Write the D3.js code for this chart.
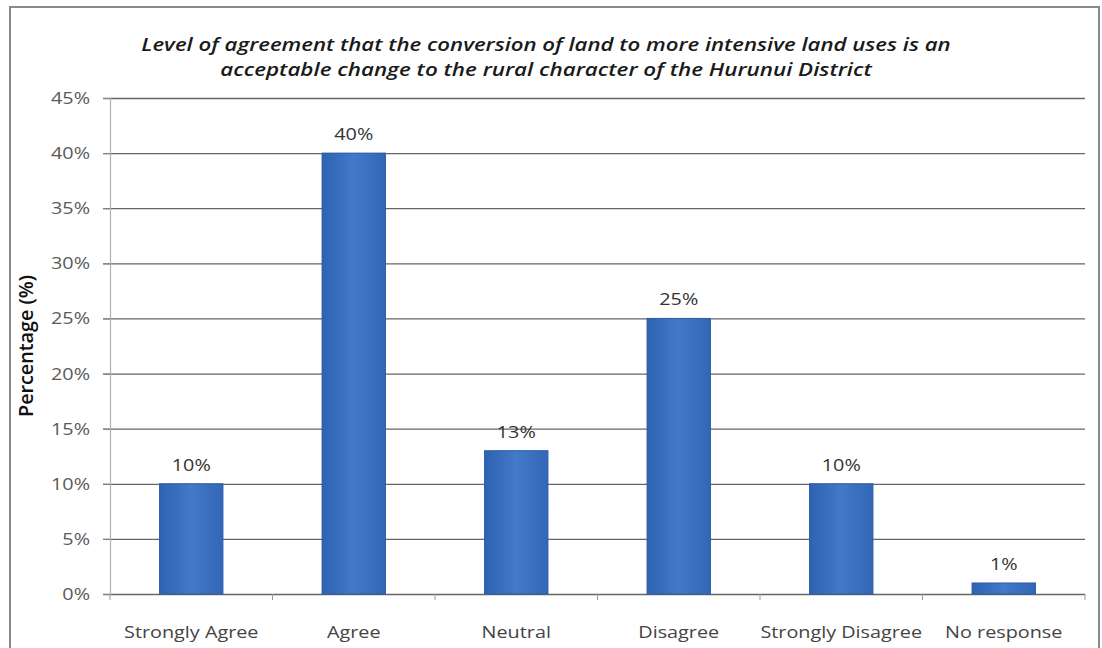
<!DOCTYPE html>
<html>
<head>
<meta charset="utf-8">
<script src="https://cdn.jsdelivr.net/npm/d3@7"></script>
<style>
  html, body { margin: 0; padding: 0; background: #fff; }
  svg { display: block; }
</style>
</head>
<body>
<svg id="chart" width="1102" height="648"></svg>
<script>
// Survey responses: share of respondents per agreement level
const categories = ["Strongly Agree", "Agree", "Neutral", "Disagree", "Strongly Disagree", "No response"];
const percentages = [10, 40, 13, 25, 10, 1];
const yTicks = [0, 5, 10, 15, 20, 25, 30, 35, 40, 45];
const titleLines = [
  "Level of agreement that the conversion of land to more intensive land uses is an",
  "acceptable change to the rural character of the Hurunui District"
];
const yAxisTitle = "Percentage (%)";

const svg = d3.select("#chart");
const plot = { left: 110, right: 1085, top: 98, bottom: 594 };
const FONT = "'Open Sans', 'Noto Sans', sans-serif";
const SX = 1.2; // horizontal stretch of label glyphs

// outer frame
svg.append("rect")
  .attr("x", 10).attr("y", 7).attr("width", 1089).attr("height", 660)
  .attr("fill", "#fff").attr("stroke", "#8a8a8a").attr("stroke-width", 2);

const x = d3.scaleBand()
  .domain(categories)
  .range([plot.left, plot.right])
  .paddingInner(0.61)
  .paddingOuter(0.305);

const y = d3.scaleLinear().domain([0, 45]).range([plot.bottom, plot.top]);

// place a horizontally stretched text at (px, py)
function label(g, px, py, txt, opts) {
  return g.append("text")
    .attr("transform", `translate(${px},${py}) scale(${opts.sx || SX},1)`)
    .attr("text-anchor", opts.anchor || "middle")
    .attr("fill", opts.fill || "#444")
    .attr("font-family", FONT)
    .attr("font-size", opts.size || 16.5)
    .attr("font-weight", opts.weight || 400)
    .text(txt);
}

// horizontal gridlines
svg.append("g")
  .selectAll("line")
  .data(yTicks)
  .join("line")
  .attr("x1", plot.left - 7).attr("x2", plot.right)
  .attr("y1", d => y(d) + 0.5).attr("y2", d => y(d) + 0.5)
  .attr("stroke", "#666").attr("stroke-width", 1.3);

// y axis line and ticks
const yg = svg.append("g")
  .attr("transform", `translate(${plot.left},0)`)
  .call(d3.axisLeft(y).tickValues(yTicks).tickSize(7).tickFormat(""));
yg.select(".domain").attr("stroke", "#b0b0b0").attr("stroke-width", 1.2);
yg.selectAll(".tick line").attr("stroke", "#888");

// y tick labels
const ylab = svg.append("g");
yTicks.forEach(t => {
  label(ylab, 90, y(t) + 6, t + "%", { anchor: "end", fill: "#5a5a5a", size: 16.5 });
});

// x axis: boundary ticks and category labels
svg.append("g")
  .selectAll("line")
  .data(d3.range(categories.length + 1))
  .join("line")
  .attr("x1", i => plot.left + i * x.step()).attr("x2", i => plot.left + i * x.step())
  .attr("y1", plot.bottom).attr("y2", plot.bottom + 6)
  .attr("stroke", "#9a9a9a").attr("stroke-width", 1);

const xlab = svg.append("g");
categories.forEach(c => {
  label(xlab, x(c) + x.bandwidth() / 2, 638, c, { fill: "#444", size: 16.5 });
});

// bar fill gradient
const defs = svg.append("defs");
const grad = defs.append("linearGradient").attr("id", "barFill")
  .attr("x1", "0%").attr("x2", "100%").attr("y1", "0%").attr("y2", "0%");
grad.append("stop").attr("offset", "0%").attr("stop-color", "#2f62b3");
grad.append("stop").attr("offset", "50%").attr("stop-color", "#4279c8");
grad.append("stop").attr("offset", "100%").attr("stop-color", "#3366b6");

const data = categories.map((c, i) => ({ cat: c, value: percentages[i] }));

svg.append("g")
  .selectAll("rect")
  .data(data)
  .join("rect")
  .attr("x", d => x(d.cat))
  .attr("width", x.bandwidth())
  .attr("y", d => y(d.value))
  .attr("height", d => y(0) - y(d.value))
  .attr("fill", "url(#barFill)")
  .attr("stroke", "#2d5ca8").attr("stroke-width", 1);

// value labels above the bars
const vlab = svg.append("g");
data.forEach(d => {
  label(vlab, x(d.cat) + x.bandwidth() / 2, y(d.value) - 13,
    d3.format(".0f")(d.value) + "%", { fill: "#333", size: 16.5 });
});

// y axis title
const yt = svg.append("text")
  .attr("transform", `translate(33,346) rotate(-90)`)
  .attr("text-anchor", "middle")
  .attr("fill", "#111")
  .attr("font-family", FONT)
  .attr("font-weight", 600)
  .attr("font-size", 15)
  .text(yAxisTitle);
const ytLen = yt.node().getComputedTextLength();
yt.attr("font-size", 15 * 142 / ytLen);

// chart title, two centred italic lines fitted to their widths
const titleTargets = [{ y: 51, w: 810 }, { y: 76, w: 652 }];
titleLines.forEach((t, i) => {
  const el = svg.append("text")
    .attr("text-anchor", "middle")
    .attr("fill", "#1a1a1a")
    .attr("font-family", FONT)
    .attr("font-style", "italic")
    .attr("font-weight", 600)
    .attr("font-size", 18)
    .text(t);
  const len = el.node().getComputedTextLength();
  el.attr("transform", `translate(546,${titleTargets[i].y}) scale(${titleTargets[i].w / len},1)`);
});
</script>
</body>
</html>
